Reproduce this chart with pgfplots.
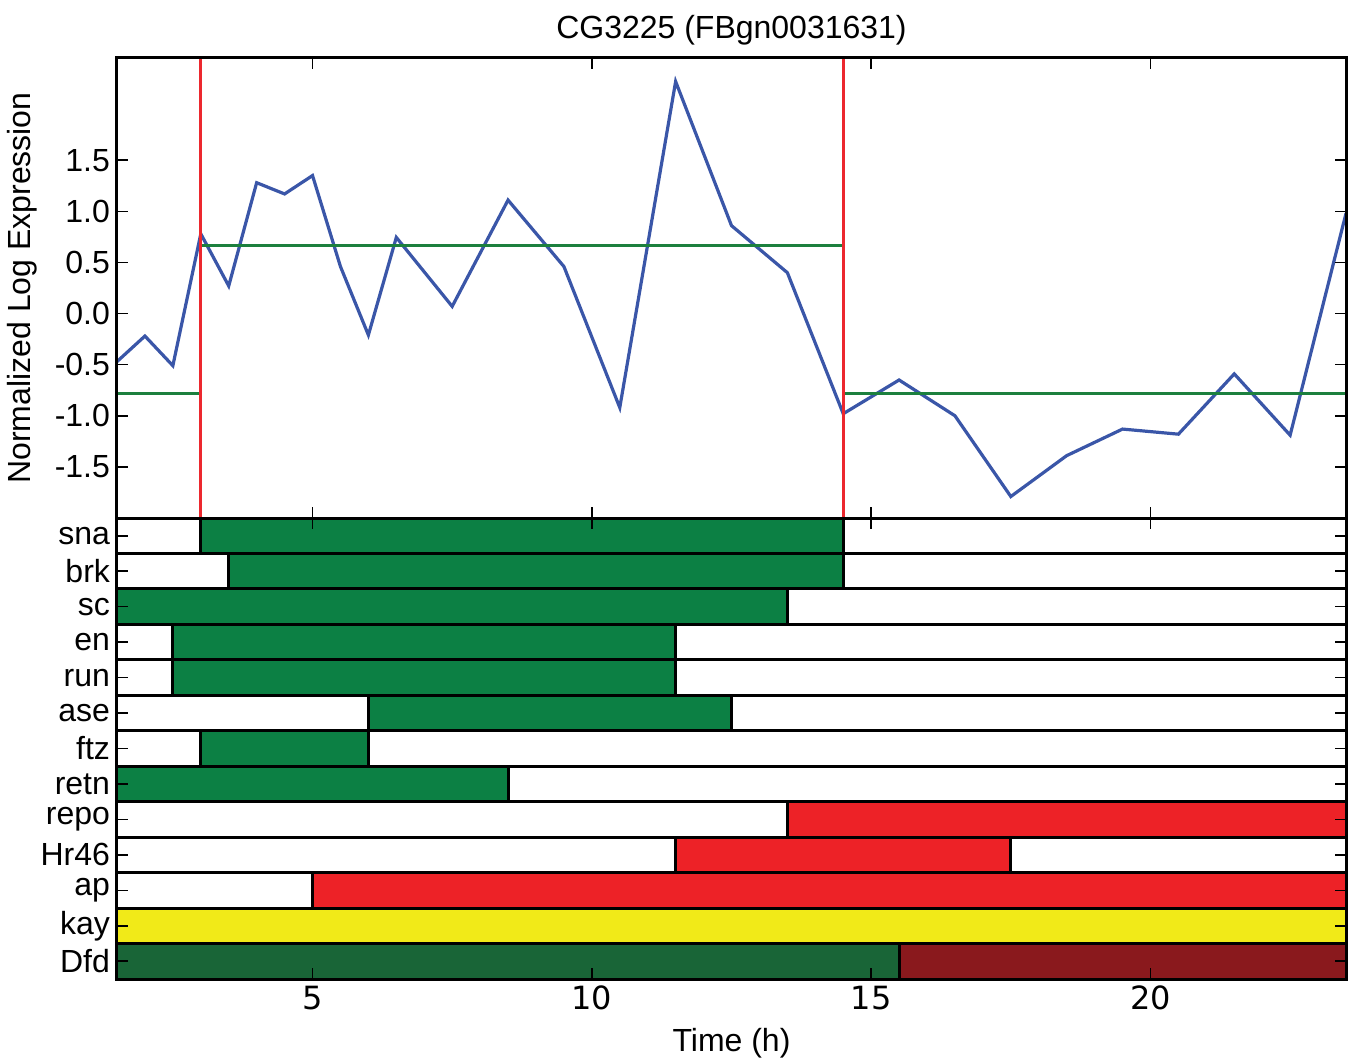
\documentclass[border=0pt]{standalone}
\usepackage{fontspec}
\setmainfont{Liberation Sans}
\newfontfamily\dejavu{DejaVu Sans}
\usepackage{pgfplots}
\pgfplotsset{compat=1.18}
\definecolor{bargreen}{RGB}{12,128,68}
\definecolor{barred}{RGB}{237,34,39}
\definecolor{baryellow}{RGB}{241,234,24}
\definecolor{dfdgreen}{RGB}{25,101,55}
\definecolor{dfdred}{RGB}{138,25,29}
\definecolor{lineblue}{RGB}{58,86,168}
\definecolor{linegreen}{RGB}{28,128,62}
\definecolor{vred}{RGB}{236,40,46}
\newcommand{\fs}{\fontsize{16}{19}\selectfont}
\newcommand{\seg}[5]{\addplot[draw=black, line width=1.5pt, fill=#5] coordinates {(#1,#3) (#2,#3) (#2,#4) (#1,#4)} -- cycle;}
\pgfplotsset{
  common/.style={
    scale only axis, width=614.5pt, xmin=1.5, xmax=23.5,
    xtick={5,10,15,20}, tick align=inside, tick pos=both,
    major tick length=5.5pt, tick style={black, line width=0.8pt},
    axis line style={black, line width=1.5pt}, axis on top,
    yticklabel style={font=\fs},
  }
}
\begin{document}
\begin{tikzpicture}
\useasboundingbox (0,0) rectangle (677pt,531pt);
\begin{axis}[common, at={(58.5pt,272pt)}, anchor=south west, height=230pt,
  ymin=-2, ymax=2.5, xticklabels={},
  ytick={-1.5,-1,-0.5,0,0.5,1,1.5},
  yticklabels={-1.5,-1.0,-0.5,0.0,0.5,1.0,1.5},
  ylabel={Normalized Log Expression},
  ylabel style={at={(axis description cs:-0.0773,0.5)}, anchor=center, font=\fs},
  title={CG3225 (FBgn0031631)},
  title style={at={(axis description cs:0.5,1.035)}, anchor=center, font=\fs}]
\addplot[lineblue, line width=1.6pt, mark=none] coordinates {
(1.5,-0.47) (2,-0.22) (2.5,-0.51) (3,0.78) (3.5,0.27) (4,1.28) (4.5,1.17) (5,1.35)
(5.5,0.46) (6,-0.21) (6.5,0.745) (7.5,0.07) (8.5,1.11) (9.5,0.46) (10.5,-0.92)
(11.5,2.27) (12.5,0.86) (13.5,0.40) (14.5,-0.98) (15.5,-0.65) (16.5,-1.0)
(17.5,-1.79) (18.5,-1.39) (19.5,-1.13) (20.5,-1.18) (21.5,-0.59) (22.5,-1.19) (23.5,0.98)};
\addplot[linegreen, line width=1.5pt, mark=none] coordinates {(1.5,-0.78) (3,-0.78)};
\addplot[linegreen, line width=1.5pt, mark=none] coordinates {(3,0.67) (14.5,0.67)};
\addplot[linegreen, line width=1.5pt, mark=none] coordinates {(14.5,-0.78) (23.5,-0.78)};
\addplot[vred, line width=1.4pt, mark=none] coordinates {(3,-2) (3,2.5)};
\addplot[vred, line width=1.4pt, mark=none] coordinates {(14.5,-2) (14.5,2.5)};
\end{axis}
\begin{axis}[common, at={(58.5pt,41.5pt)}, anchor=south west, height=230.5pt,
  ymin=0, ymax=13,
  xticklabels={5,10,15,20}, xticklabel style={font=\fs\dejavu},
  ytick={0.5,1.5,2.5,3.5,4.5,5.5,6.5,7.5,8.5,9.5,10.5,11.5,12.5},
  yticklabels={Dfd,kay,ap,Hr46,repo,retn,ftz,ase,run,en,sc,brk,sna},
  xlabel={Time (h)},
  xlabel style={at={(axis description cs:0.5,-0.139)}, anchor=center, font=\fs}]
% sna
\seg{1.5}{3}{12}{13}{white}\seg{3}{14.5}{12}{13}{bargreen}\seg{14.5}{23.5}{12}{13}{white}
% brk
\seg{1.5}{3.5}{11}{12}{white}\seg{3.5}{14.5}{11}{12}{bargreen}\seg{14.5}{23.5}{11}{12}{white}
% sc
\seg{1.5}{13.5}{10}{11}{bargreen}\seg{13.5}{23.5}{10}{11}{white}
% en
\seg{1.5}{2.5}{9}{10}{white}\seg{2.5}{11.5}{9}{10}{bargreen}\seg{11.5}{23.5}{9}{10}{white}
% run
\seg{1.5}{2.5}{8}{9}{white}\seg{2.5}{11.5}{8}{9}{bargreen}\seg{11.5}{23.5}{8}{9}{white}
% ase
\seg{1.5}{6}{7}{8}{white}\seg{6}{12.5}{7}{8}{bargreen}\seg{12.5}{23.5}{7}{8}{white}
% ftz
\seg{1.5}{3}{6}{7}{white}\seg{3}{6}{6}{7}{bargreen}\seg{6}{23.5}{6}{7}{white}
% retn
\seg{1.5}{8.5}{5}{6}{bargreen}\seg{8.5}{23.5}{5}{6}{white}
% repo
\seg{1.5}{13.5}{4}{5}{white}\seg{13.5}{23.5}{4}{5}{barred}
% Hr46
\seg{1.5}{11.5}{3}{4}{white}\seg{11.5}{17.5}{3}{4}{barred}\seg{17.5}{23.5}{3}{4}{white}
% ap
\seg{1.5}{5}{2}{3}{white}\seg{5}{23.5}{2}{3}{barred}
% kay
\seg{1.5}{23.5}{1}{2}{baryellow}
% Dfd
\seg{1.5}{15.5}{0}{1}{dfdgreen}\seg{15.5}{23.5}{0}{1}{dfdred}
\end{axis}
\end{tikzpicture}
\end{document}
